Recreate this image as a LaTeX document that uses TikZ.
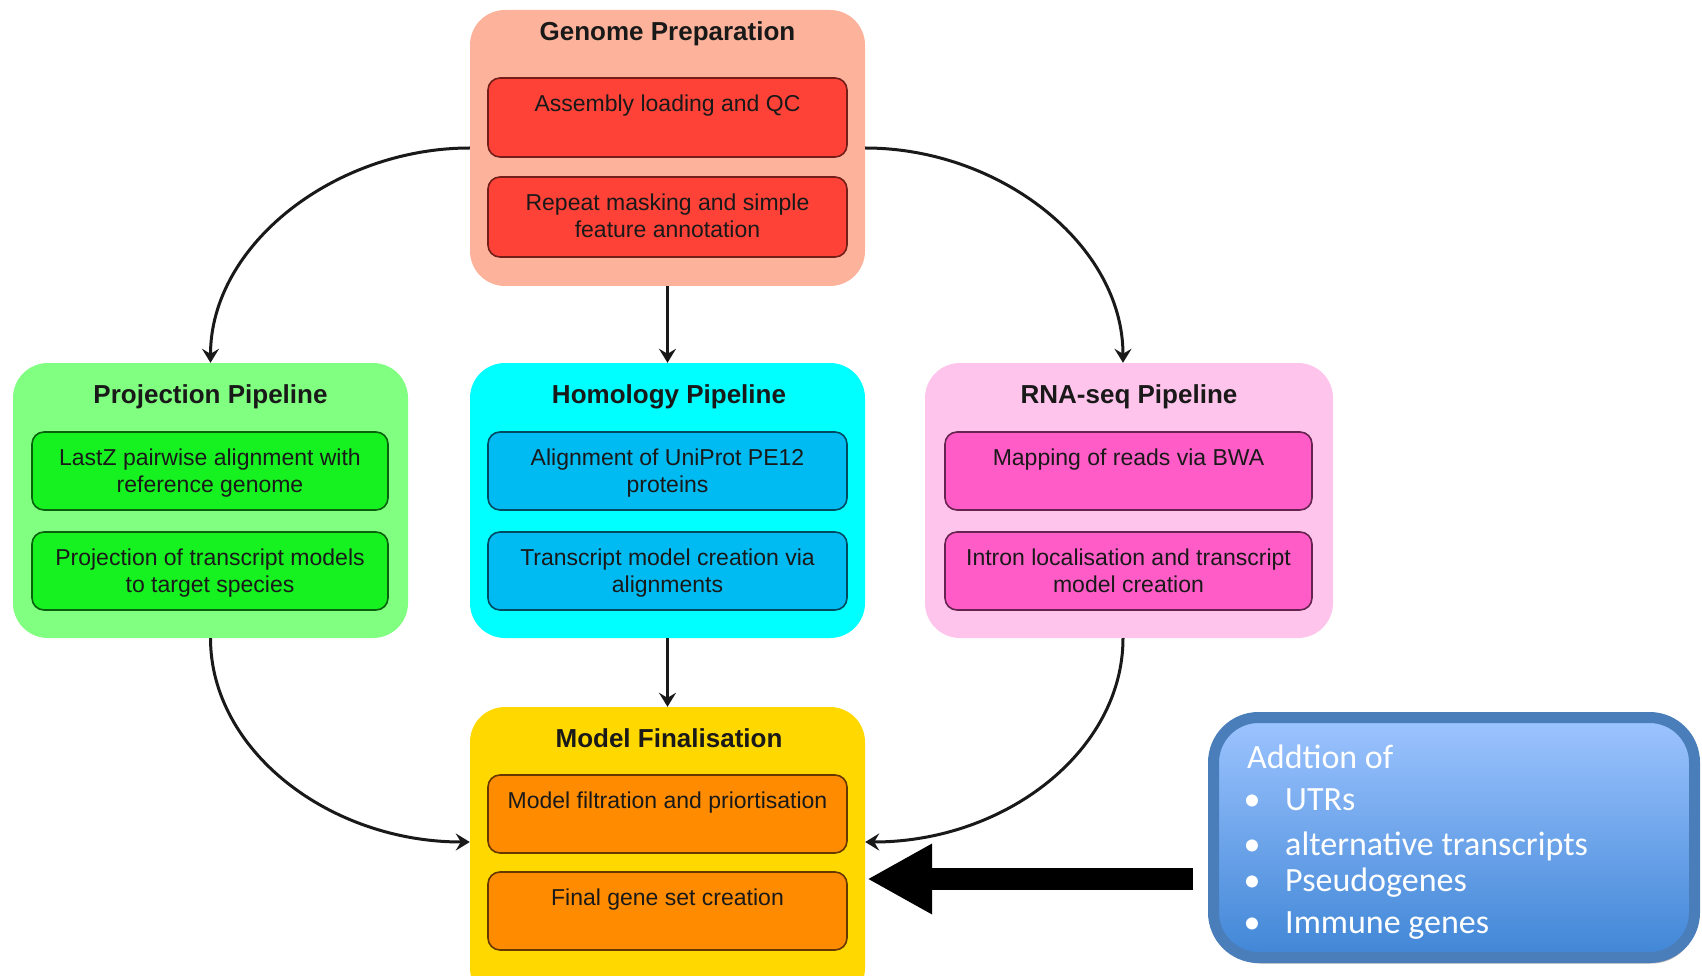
\documentclass[tikz,border=0pt]{standalone}
\usepackage{fontspec}
\setmainfont{Liberation Sans}
\newfontfamily\carl{Carlito}
\usetikzlibrary{arrows.meta,shadows}

\definecolor{gpO}{RGB}{253,178,155}
\definecolor{gpI}{RGB}{255,66,56}
\definecolor{prO}{RGB}{128,255,128}
\definecolor{prI}{RGB}{22,242,32}
\definecolor{hoO}{RGB}{0,255,255}
\definecolor{hoI}{RGB}{0,186,242}
\definecolor{rnO}{RGB}{255,196,235}
\definecolor{rnI}{RGB}{255,92,200}
\definecolor{mfO}{RGB}{255,216,0}
\definecolor{mfI}{RGB}{255,140,0}
\definecolor{blTop}{RGB}{157,196,255}
\definecolor{blBot}{RGB}{64,134,214}
\definecolor{blEdge}{RGB}{74,126,187}
\definecolor{ink}{RGB}{25,25,25}

\begin{document}
\begin{tikzpicture}[x=1pt,y=-1pt,
  outerbox/.style={rectangle,rounded corners=35pt,inner sep=0pt,draw=none},
  innerbox/.style={rectangle,rounded corners=12pt,inner sep=0pt,line width=1.6pt},
  boxtitle/.style={font=\fontsize{26}{30}\selectfont\bfseries,text=ink,inner sep=0pt,anchor=base},
  itext/.style={font=\fontsize{23}{27}\selectfont,text=ink,inner sep=0pt,anchor=north,align=center},
  conn/.style={line width=3pt,draw=ink,-{Stealth[length=14pt,width=17pt,inset=5pt]}},
  bigarrow/.style={line width=22pt,draw=black,-{Triangle[length=65pt,width=66pt]}},
  bltext/.style={font=\carl\fontsize{34}{40}\selectfont,text=white,inner sep=0pt,anchor=base west},
  blbullet/.style={font=\carl\fontsize{34}{40}\selectfont,text=white,inner sep=0pt,anchor=base}
]
\useasboundingbox (0,0) rectangle (1702,976);
\clip (0,0) rectangle (1702,976);

% outer boxes
\node[outerbox,fill=gpO,minimum width=395pt,minimum height=276pt] (gp) at (667.5,148) {};
\node[outerbox,fill=prO,minimum width=395pt,minimum height=275pt] (proj) at (210.5,500.5) {};
\node[outerbox,fill=hoO,minimum width=395pt,minimum height=275pt] (hom) at (667.5,500.5) {};
\node[outerbox,fill=rnO,minimum width=408pt,minimum height=275pt] (rna) at (1129,500.5) {};
\node[outerbox,fill=mfO,minimum width=395pt,minimum height=296pt] (mf) at (667.5,855) {};

% titles
\node[boxtitle] (gpt) at (667.5,41) {Genome Preparation};
\node[boxtitle] (projt) at (210.5,403) {Projection Pipeline};
\node[boxtitle] (homt) at (669,403) {Homology Pipeline};
\node[boxtitle] (rnat) at (1129,403) {RNA-seq Pipeline};
\node[boxtitle] (mft) at (669,747) {Model Finalisation};

% inner boxes
\node[innerbox,fill=gpI,draw=gpI!45!black,minimum width=359pt,minimum height=79pt] (gp1) at (667.5,117.5) {};
\node[innerbox,fill=gpI,draw=gpI!45!black,minimum width=359pt,minimum height=80pt] (gp2) at (667.5,217) {};
\node[innerbox,fill=prI,draw=prI!40!black,minimum width=356pt,minimum height=78pt] (pr1) at (210,471) {};
\node[innerbox,fill=prI,draw=prI!40!black,minimum width=356pt,minimum height=78pt] (pr2) at (210,571) {};
\node[innerbox,fill=hoI,draw=hoI!40!black,minimum width=359pt,minimum height=78pt] (ho1) at (667.5,471) {};
\node[innerbox,fill=hoI,draw=hoI!40!black,minimum width=359pt,minimum height=78pt] (ho2) at (667.5,571) {};
\node[innerbox,fill=rnI,draw=rnI!40!black,minimum width=367pt,minimum height=78pt] (rn1) at (1128.5,471) {};
\node[innerbox,fill=rnI,draw=rnI!40!black,minimum width=367pt,minimum height=78pt] (rn2) at (1128.5,571) {};
\node[innerbox,fill=mfI,draw=mfI!40!black,minimum width=359pt,minimum height=78pt] (mf1) at (667.5,814) {};
\node[innerbox,fill=mfI,draw=mfI!40!black,minimum width=359pt,minimum height=78pt] (mf2) at (667.5,911) {};

% inner texts
\node[itext] (gp1t) at (667.5,94.5) {Assembly loading and QC};
\node[itext] (gp2t) at (667.5,193.5) {Repeat masking and simple\\feature annotation};
\node[itext] (pr1t) at (210,448.5) {LastZ pairwise alignment with\\reference genome};
\node[itext] (pr2t) at (210,548.5) {Projection of transcript models\\to target species};
\node[itext] (ho1t) at (667.5,448.5) {Alignment of UniProt PE12\\proteins};
\node[itext] (ho2t) at (667.5,548.5) {Transcript model creation via\\alignments};
\node[itext] (rn1t) at (1128.5,448.5) {Mapping of reads via BWA};
\node[itext] (rn2t) at (1128.5,548.5) {Intron localisation and transcript\\model creation};
\node[itext] (mf1t) at (667.5,791.5) {Model filtration and priortisation};
\node[itext] (mf2t) at (667.5,888.5) {Final gene set creation};

% connectors
\draw[conn] (gp.west) .. controls +(-135,0) and +(0,-118) .. (proj.north);
\draw[conn] (gp.east) .. controls +(135,0) and +(0,-118) .. ([xshift=-6pt]rna.north);
\draw[conn] (gp.south) -- (hom.north);
\draw[conn] (hom.south) -- (mf.north);
\draw[conn] (proj.south) .. controls +(0,112) and +(-141,0) .. ([yshift=13pt]mf.west);
\draw[conn] ([xshift=-6pt]rna.south) .. controls +(0,112) and +(141,0) .. ([yshift=13pt]mf.east);

% blue note box
\node[rectangle,rounded corners=45pt,line width=11pt,draw=blEdge,top color=blTop,bottom color=blBot,
      minimum width=481pt,minimum height=240pt,inner sep=0pt,
      drop shadow={shadow xshift=2pt,shadow yshift=-6pt,opacity=0.3,fill=black}] (blue) at (1454,837.5) {};
\node[bltext] (bl0) at (1247,768) {Addtion of};
\node[blbullet] (b1) at (1252,810) {•};
\node[bltext] (bl1) at (1285,810) {UTRs};
\node[blbullet] (b2) at (1252,855) {•};
\node[bltext] (bl2) at (1285,855) {alternative transcripts};
\node[blbullet] (b3) at (1252,891) {•};
\node[bltext] (bl3) at (1285,891) {Pseudogenes};
\node[blbullet] (b4) at (1252,933) {•};
\node[bltext] (bl4) at (1285,933) {Immune genes};

% big arrow
\draw[bigarrow] ([xshift=-15pt,yshift=-41.5pt]blue.west) -- ([xshift=2pt,yshift=-24pt]mf.east);
\end{tikzpicture}
\end{document}
